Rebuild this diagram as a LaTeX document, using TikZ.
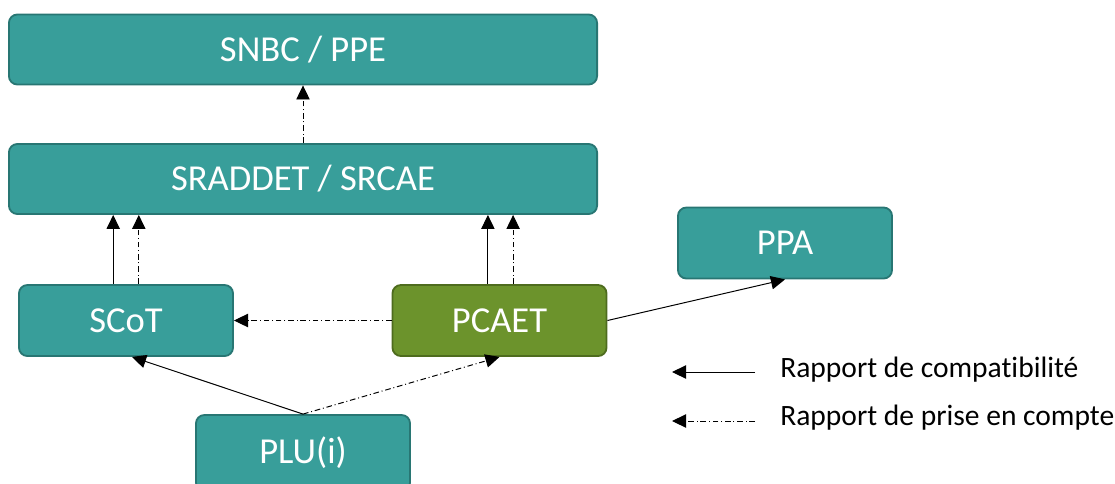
\documentclass[tikz,border=0pt]{standalone}
\usepackage{fontspec}
\setmainfont{Carlito}[Ligatures=NoCommon]
\usetikzlibrary{arrows.meta}
\definecolor{sarcelle}{RGB}{56,158,154}
\definecolor{sarcelleBord}{RGB}{40,118,115}
\definecolor{olive}{RGB}{108,147,44}
\definecolor{oliveBord}{RGB}{78,108,30}

\begin{document}
\begin{tikzpicture}[x=0.025cm, y=-0.025cm, >={Triangle[length=10pt,width=9.5pt]},
		boite/.style={draw=sarcelleBord, fill=sarcelle, line width=1.3pt, rounded corners=6pt,
			text=white, font=\fontsize{26}{30}\selectfont, inner sep=0pt},
		large/.style={minimum width=14.7cm, minimum height=1.75cm},
		petite/.style={minimum width=5.35cm, minimum height=1.775cm},
		compat/.style={->, line width=0.7pt},
		prise/.style={->, line width=0.7pt, dash pattern=on 4pt off 2pt on 0.7pt off 2pt},
		legende/.style={font=\fontsize{21}{25}\selectfont, inner sep=0pt}]
	\useasboundingbox (0,0) rectangle (1115,483);

	% --- niveaux ---
	\node[boite, large] (snbc) at (303,49.5) {SNBC / PPE};
	\node[boite, large] (srad) at (303,179) {SRADDET / SRCAE};
	\node[boite, petite] (scot) at (126,320.5) {SCoT};
	\node[boite, petite, fill=olive, draw=oliveBord] (pcaet) at (499.5,320.5) {PCAET};
	\node[boite, petite] (ppa) at (785,243) {PPA};
	\node[boite, minimum width=5.35cm, minimum height=1.9cm] (plu) at (303,453) {PLU(i)};

	% --- liens ---
	\draw[prise] (srad) -- (snbc);
	\draw[compat] ([xshift=-0.32cm]scot.north) -- ([xshift=-0.32cm]scot.north |- srad.south);
	\draw[prise] ([xshift=0.32cm]scot.north) -- ([xshift=0.32cm]scot.north |- srad.south);
	\draw[compat] ([xshift=-0.29cm]pcaet.north) -- ([xshift=-0.29cm]pcaet.north |- srad.south);
	\draw[prise] ([xshift=0.34cm]pcaet.north) -- ([xshift=0.34cm]pcaet.north |- srad.south);
	\draw[prise] (pcaet.west) -- (scot.east);
	\draw[compat] (plu.north) -- ([xshift=0.15cm]scot.south);
	\draw[prise] (plu.north) -- (pcaet.south);
	\draw[compat] (pcaet.east) -- (ppa.south);

	% --- légende ---
	\coordinate (c1a) at (755,372);
	\coordinate (c1b) at (672,372);
	\coordinate (c2a) at (755,421);
	\coordinate (c2b) at (672,421);
	\draw[compat] (c1a) -- (c1b);
	\draw[prise] (c2a) -- (c2b);
	\node[legende, anchor=base west] (lcompat) at (780,377) {Rapport de compatibilité};
	\node[legende, anchor=base west] (lprise) at (780,425) {Rapport de prise en compte};
\end{tikzpicture}
\end{document}
